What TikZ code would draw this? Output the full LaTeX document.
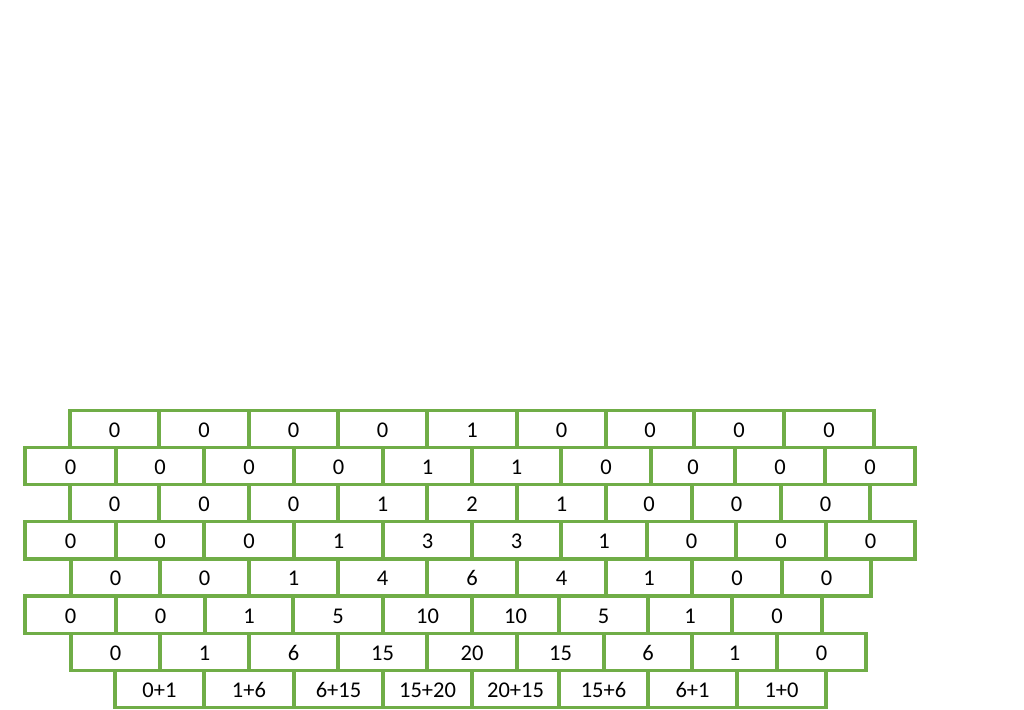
\documentclass[tikz,border=0pt]{standalone}
\usepackage{fontspec}
\setmainfont{Carlito}[Numbers=Lining]
\definecolor{brickgreen}{HTML}{70AD47}
\begin{document}
\begin{tikzpicture}[x=1pt,y=-1pt,
  cell/.style={draw=brickgreen, line width=3.2pt, fill=white, inner sep=0pt,
    minimum height=37.1pt, text height=17pt, text depth=0pt,
    font=\fontsize{22.5}{27}\selectfont}]
\useasboundingbox (0,0) rectangle (1024,709);
\foreach \row/\cells in {
 1/{70/159/0,159/249/0,249/338/0,338/427/0,427/517/1,517/606/0,606/694/0,694/784/0,784/874/0},
 2/{25/116/0,116/204/0,204/294/0,294/383/0,383/472/1,472/561/1,561/651/0,651/735/0,735/825/0,825/915/0},
 3/{70/159/0,159/249/0,249/338/0,338/427/1,427/517/2,517/606/1,606/692/0,692/781/0,781/870/0},
 4/{25/116/0,116/204/0,204/294/0,294/383/1,383/472/3,472/561/3,561/647/1,647/736/0,736/826/0,826/915/0},
 5/{71/160/0,160/249/0,249/338/1,338/427/4,427/517/6,517/606/4,606/692/1,692/782/0,782/871/0},
 6/{25/116/0,116/205/0,205/293/1,293/383/5,383/472/10,472/559/10,559/648/5,648/732/1,732/822/0},
 7/{71/160/0,160/249/1,249/338/6,338/427/15,427/517/20,517/604/15,604/692/6,692/777/1,777/866/0},
 8/{115/204/0+1,204/294/1+6,294/383/6+15,383/472/15+20,472/559/20+15,559/648/15+6,648/737/6+1,737/826/1+0}}
{
  \foreach \l/\r/\t [count=\c] in \cells {
    \node[cell, minimum width={(\r-\l)*1pt}] (r\row c\c)
      at ({(\l+\r)/2},{410.5+37.1*(\row-1)+18.55}) {\t};
  }
}
\end{tikzpicture}
\end{document}
